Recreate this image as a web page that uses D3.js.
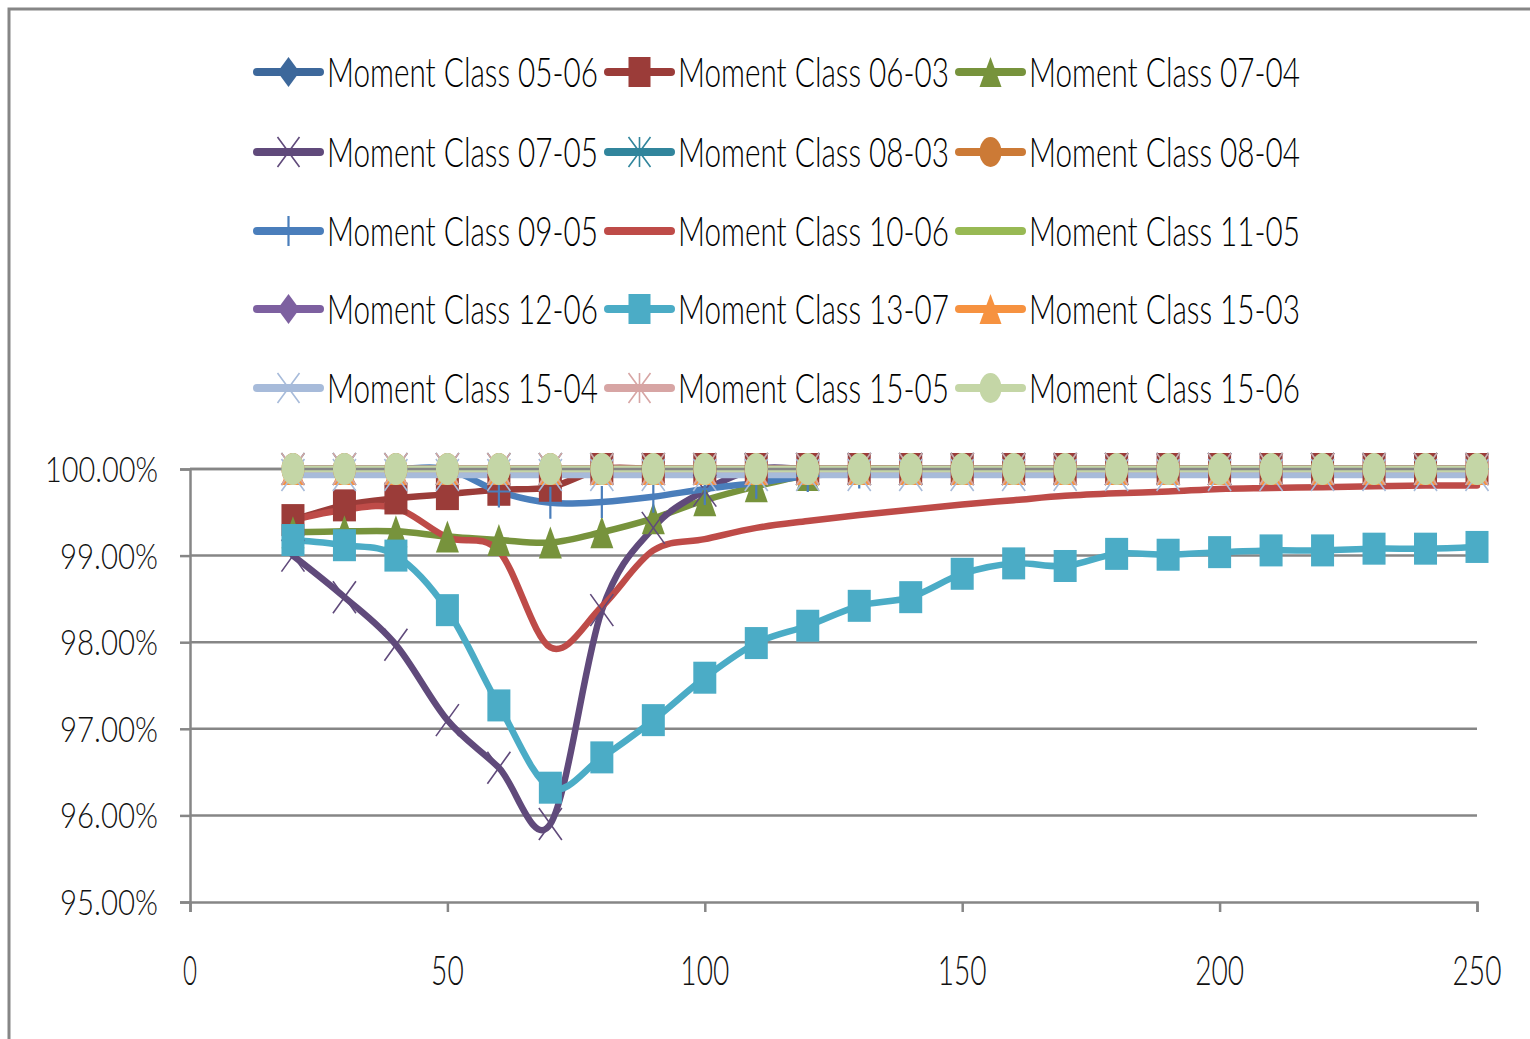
<!DOCTYPE html>
<html><head><meta charset="utf-8">
<script src="https://cdn.jsdelivr.net/npm/d3@7"></script>
<style>html,body{margin:0;padding:0;background:#fff;overflow:hidden}</style>
</head><body>
<svg id="chart" width="1530" height="1039"></svg>
<script>
// ---------- DATA ----------
const xValues = [20,30,40,50,60,70,80,90,100,110,120,130,140,150,160,170,180,190,200,210,220,230,240,250];

const seriesNames = ["Moment Class 05-06","Moment Class 06-03","Moment Class 07-04","Moment Class 07-05","Moment Class 08-03",
  "Moment Class 08-04","Moment Class 09-05","Moment Class 10-06","Moment Class 11-05","Moment Class 12-06",
  "Moment Class 13-07","Moment Class 15-03","Moment Class 15-04","Moment Class 15-05","Moment Class 15-06"];

const s0506 = [100,100,100,100,100,100,100,100,100,100,100,100,100,100,100,100,100,100,100,100,100,100,100,100];
const s0603 = [99.41,99.58,99.66,99.71,99.76,99.79,100,100,100,100,100,100,100,100,100,100,100,100,100,100,100,100,100,100];
const s0704 = [99.27,99.28,99.28,99.22,99.18,99.15,99.27,99.43,99.64,99.8,99.93,100,100,100,100,100,100,100,100,100,100,100,100,100];
const s0705 = [99.0,98.52,97.97,97.1,96.55,95.9,98.37,99.32,99.75,100,100,100,100,100,100,100,100,100,100,100,100,100,100,100];
const s0803 = [100,100,100,100,100,100,100,100,100,100,100,100,100,100,100,100,100,100,100,100,100,100,100,100];
const s0804 = [100,100,100,100,100,100,100,100,100,100,100,100,100,100,100,100,100,100,100,100,100,100,100,100];
const s0905 = [100,100,100,100,99.74,99.61,99.62,99.68,99.77,99.84,99.92,99.96,100,100,100,100,100,100,100,100,100,100,100,100];
const s1006 = [99.41,99.53,99.55,99.21,99.05,97.94,98.41,99.06,99.19,99.32,99.40,99.47,99.53,99.59,99.64,99.69,99.72,99.74,99.77,99.78,99.79,99.80,99.81,99.81];
const s1105 = [100,100,100,100,100,100,100,100,100,100,100,100,100,100,100,100,100,100,100,100,100,100,100,100];
const s1206 = [100,100,100,100,100,100,100,100,100,100,100,100,100,100,100,100,100,100,100,100,100,100,100,100];
const s1307 = [99.18,99.12,99.0,98.37,97.27,96.32,96.67,97.1,97.59,97.99,98.19,98.42,98.52,98.79,98.91,98.88,99.02,99.01,99.04,99.06,99.06,99.08,99.08,99.1];
const s1503 = [100,100,100,100,100,100,100,100,100,100,100,100,100,100,100,100,100,100,100,100,100,100,100,100];
const s1504 = [99.93,99.93,99.93,99.93,99.93,99.93,99.93,99.93,99.93,99.93,99.93,99.93,99.93,99.93,99.93,99.93,99.93,99.93,99.93,99.93,99.93,99.93,99.93,99.93];
const s1505 = [100,100,100,100,100,100,100,100,100,100,100,100,100,100,100,100,100,100,100,100,100,100,100,100];
const s1506 = [100,100,100,100,100,100,100,100,100,100,100,100,100,100,100,100,100,100,100,100,100,100,100,100];

const seriesValues = [s0506,s0603,s0704,s0705,s0803,s0804,s0905,s1006,s1105,s1206,s1307,s1503,s1504,s1505,s1506];
const seriesColors = ["#3d689b","#9b3c39","#77933c","#604a7b","#31859c","#cc7a36","#4a7ebb","#be4b48",
  "#98b954","#7d60a0","#4bacc6","#f69240","#a7bbda","#d7a5a4","#c4d6a6"];
const seriesMarkers = ["diamond","square","triangle","x","star","circle","plus","none","none",
  "diamond","square","triangle","x","star","circle"];

const yTicks = [95,96,97,98,99,100];
const yTickLabels = ["95.00%","96.00%","97.00%","98.00%","99.00%","100.00%"];
const xTicks = [0,50,100,150,200,250];
const xTickLabels = ["0","50","100","150","200","250"];

// ---------- LAYOUT ----------
const svg = d3.select("#chart");
const gray = "#868686";
const x = d3.scaleLinear().domain([0,250]).range([190,1477]);
const y = d3.scaleLinear().domain([95,100]).range([902,469]);
const FONT = "Lato, 'Liberation Sans', Arial, sans-serif";
const FW = 300;

// frame
svg.append("path").attr("d","M9,1039 V9 H1530").attr("fill","none").attr("stroke",gray).attr("stroke-width",3);

// gridlines
const grid = svg.append("g");
grid.selectAll("line").data(yTicks.filter(d=>d>95)).join("line")
  .attr("x1",x(0)).attr("x2",x(250)).attr("y1",d=>y(d)).attr("y2",d=>y(d))
  .attr("stroke",gray).attr("stroke-width",2.5);

// axes
const yAxis = svg.append("g").attr("transform",`translate(${x(0)},0)`)
  .call(d3.axisLeft(y).tickValues(yTicks).tickSize(10).tickFormat(""));
const xAxis = svg.append("g").attr("transform",`translate(0,${y(95)})`)
  .call(d3.axisBottom(x).tickValues(xTicks).tickSize(10).tickFormat(""));
[yAxis,xAxis].forEach(a=>{a.selectAll("path,line").attr("stroke",gray).attr("stroke-width",2.5);});

// tick labels
const yLen = s => s.length===7 ? 113 : 98;
svg.append("g").selectAll("text").data(yTicks).join("text")
  .attr("x",158).attr("y",d=>y(d)+13)
  .attr("text-anchor","end").attr("font-family",FONT).attr("font-weight",FW).attr("font-size",35).attr("fill","#111")
  .attr("textLength",(d,i)=>yLen(yTickLabels[i])).attr("lengthAdjust","spacingAndGlyphs")
  .text((d,i)=>yTickLabels[i]);
const xLen = s => s.length===1 ? 14 : s.length*16.3;
svg.append("g").selectAll("text").data(xTicks).join("text")
  .attr("x",d=>x(d)).attr("y",985)
  .attr("text-anchor","middle").attr("font-family",FONT).attr("font-weight",FW).attr("font-size",41).attr("fill","#111")
  .attr("textLength",(d,i)=>xLen(xTickLabels[i])).attr("lengthAdjust","spacingAndGlyphs")
  .text((d,i)=>xTickLabels[i]);

// marker drawing
function drawMarker(g, type, color, w, h){
  const hw=w/2, hh=h/2;
  if(type==="diamond") g.append("path").attr("d",`M0,${-hh}L${hw},0L0,${hh}L${-hw},0Z`).attr("fill",color);
  else if(type==="square") g.append("rect").attr("x",-hw).attr("y",-hh).attr("width",w).attr("height",h).attr("fill",color);
  else if(type==="triangle") g.append("path").attr("d",`M0,${-hh}L${hw},${hh}L${-hw},${hh}Z`).attr("fill",color);
  else if(type==="circle") g.append("ellipse").attr("rx",hw).attr("ry",hh).attr("fill",color);
  else if(type==="x") g.append("path").attr("d",`M${-hw},${-hh}L${hw},${hh}M${hw},${-hh}L${-hw},${hh}`).attr("stroke",color).attr("stroke-width",1.6).attr("fill","none");
  else if(type==="star") g.append("path").attr("d",`M${-hw},${-hh}L${hw},${hh}M${hw},${-hh}L${-hw},${hh}M0,${-hh}V${hh}`).attr("stroke",color).attr("stroke-width",1.6).attr("fill","none");
  else if(type==="plus") g.append("path").attr("d",`M0,${-hh}V${hh}M${-hw},0H${hw}`).attr("stroke",color).attr("stroke-width",2.2).attr("fill","none");
}

// series lines
const line = d3.line().x(d=>x(d[0])).y(d=>y(d[1])).curve(d3.curveCardinal.tension(0));
const linesG = svg.append("g");
seriesValues.forEach((vals,i)=>{
  linesG.append("path").datum(xValues.map((xv,j)=>[xv,vals[j]]))
    .attr("d",line).attr("fill","none").attr("stroke",seriesColors[i])
    .attr("stroke-width",6.5).attr("stroke-linejoin","round").attr("stroke-linecap","round");
});
// top gridline shows over the 100% lines
svg.append("line").attr("x1",x(0)).attr("x2",x(250)).attr("y1",y(100)).attr("y2",y(100))
  .attr("stroke",gray).attr("stroke-width",2.5);

// markers
const markG = svg.append("g");
seriesValues.forEach((vals,i)=>{
  if(seriesMarkers[i]==="none") return;
  xValues.forEach((xv,j)=>{
    const g = markG.append("g").attr("transform",`translate(${x(xv)},${y(vals[j])})`);
    drawMarker(g, seriesMarkers[i], seriesColors[i], 23, 32);
  });
});

// legend
const legCols = [255,606,957];
const legRows = [72,152,231,309,388];
const legend = svg.append("g");
seriesNames.forEach((name,i)=>{
  const cx = legCols[i%3], cy = legRows[Math.floor(i/3)];
  const g = legend.append("g").attr("transform",`translate(${cx},${cy})`);
  g.append("line").attr("x1",2).attr("x2",65).attr("y1",0).attr("y2",0)
    .attr("stroke",seriesColors[i]).attr("stroke-width",8).attr("stroke-linecap","round");
  const m = g.append("g").attr("transform","translate(33.5,0)");
  drawMarker(m, seriesMarkers[i], seriesColors[i], 22, 30);
  g.append("text").attr("x",72).attr("y",15).attr("font-family",FONT).attr("font-weight",FW).attr("font-size",42).attr("fill","#000")
    .attr("textLength",271).attr("lengthAdjust","spacingAndGlyphs").text(name);
});
</script>
</body></html>
